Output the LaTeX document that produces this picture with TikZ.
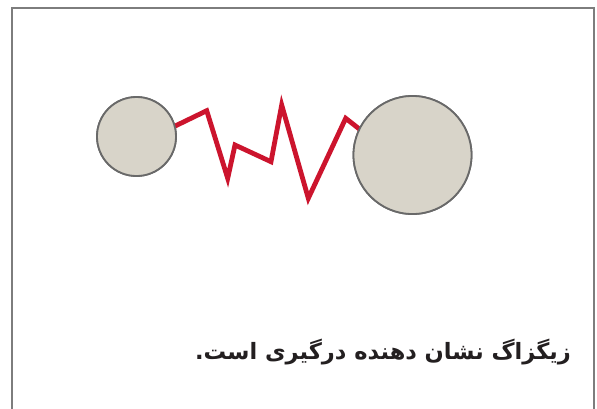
\documentclass[tikz,border=0pt]{standalone}
\usepackage{fontspec}
\TeXXeTstate=1
\newfontfamily\arabicfont[Script=Arabic]{DejaVu Sans}
\definecolor{ballfill}{RGB}{216,212,201}
\definecolor{balledge}{RGB}{105,105,105}
\definecolor{zigred}{RGB}{204,20,45}
\definecolor{framegray}{RGB}{125,125,125}
\definecolor{textdark}{RGB}{35,31,32}
\tikzset{
  ball/.style={circle, draw=balledge, fill=ballfill, line width=1.8pt, inner sep=0pt},
  zig/.style={draw=zigred, line width=4.8pt, line join=miter},
  frameline/.style={draw=framegray, line width=2pt},
}
\begin{document}
\begin{tikzpicture}[x=1pt,y=-1pt]
\useasboundingbox (0,0) rectangle (597,408);
\fill[white] (0,0) rectangle (597,408);
\draw[frameline] (12,412) -- (12,8) -- (594,8) -- (594,412);
\coordinate (z1) at (206.7,110.7);
\coordinate (z2) at (227.7,178.3);
\coordinate (z3) at (235,145);
\coordinate (z4) at (271,161.7);
\coordinate (z5) at (281.7,105);
\coordinate (z6) at (308.3,198.3);
\coordinate (z7) at (345.7,118.3);
\node[ball, minimum size=79pt] (s) at (136.5,136.5) {};
\node[ball, minimum size=118pt] (b) at (412.5,155) {};
\draw[zig] ([shift={(-2pt,0pt)}]s.14) -- (z1) -- (z2) -- (z3) -- (z4) -- (z5) -- (z6) -- (z7) -- ([shift={(2pt,0pt)}]b.155);
\node[ball, minimum size=118pt] at (b) {};
\node[ball, minimum size=79pt] at (s) {};
\node[anchor=base east, inner sep=0pt, text=textdark] (t) at (571,359) {\arabicfont\bfseries\fontsize{22.5}{26}\selectfont\beginR زیگزاگ نشان دهنده درگیری است.\endR};
\end{tikzpicture}
\end{document}
